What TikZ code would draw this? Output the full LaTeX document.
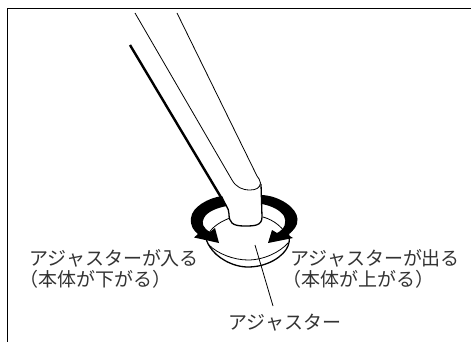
\documentclass[tikz,border=0pt]{standalone}
\usepackage{fontspec}
\newfontfamily\cjk{Noto Sans CJK JP}
\tikzset{
  label text/.style={font=\cjk\fontsize{19}{21}\selectfont, anchor=west, inner sep=0pt, text=black!80},
  thinline/.style={line width=0.8pt, line join=round},
  midline/.style={line width=1.3pt, line join=round},
  heavyline/.style={line width=2.4pt, line cap=butt},
  arrowfill/.style={fill=black, draw=none}
}
\begin{document}
\begin{tikzpicture}[x=1pt,y=-1pt]
\useasboundingbox (0,0) rectangle (471,342);
% frame
\draw[line width=1pt] (7.5,342) -- (7.5,8.5) -- (471,8.5);
% pipe thin lines
\draw[thinline] (135,13) -- (232,180) .. controls (236,187) and (242,190) .. (250,190) .. controls (256,190) and (260,188) .. (260.5,183) .. controls (260.5,180) and (258,178) .. (257,176) -- (177,13);
% heavy pipe side
\draw[heavyline] (130,45) -- (222,199);
% disk
\draw[midline] (209,232) .. controls (203,237) and (208,244) .. (210,247) .. controls (216,257) and (232,267) .. (248,267) .. controls (268,267) and (284,256) .. (288,246) .. controls (290,240) and (290,236) .. (287,232);
\draw[thinline] (209,245) .. controls (218,254) and (234,260) .. (248,260) .. controls (264,260) and (280,252) .. (288,243);
\draw[thinline] (209,233) .. controls (213,226) and (222,221) .. (230,218);
\draw[thinline] (263,217) .. controls (274,220) and (284,228) .. (288,238);
% foot
\draw[midline] (220,197) .. controls (225,204) and (229,208) .. (229,214) .. controls (229,222) and (232,226) .. (244,226) .. controls (254,226) and (262,226) .. (262,217) -- (261,184);
% arrows
\path[arrowfill] (222,196) .. controls (208,198) and (192,207) .. (191,218) .. controls (190,226) and (194,231) .. (198,234) -- (194,237.5) -- (219,243) -- (215,228) -- (210,232) .. controls (203,228) and (201,223) .. (204,218) .. controls (207,212) and (216,208) .. (227,206) -- cycle;
\path[arrowfill] (262,195) .. controls (280,196) and (297,208) .. (297.5,219) .. controls (298,226) and (293,231) .. (288,235) -- (293,238) -- (268,243) -- (272,230) -- (277,233) .. controls (285,229) and (287,222) .. (284,216) .. controls (280,210) and (272,206) .. (262,204) -- cycle;
% labels
\node[label text] (l1) at (29.5,258) {アジャスターが入る};
\node[label text] (l2) at (19,279) {（本体が下がる）};
\node[label text] (r1) at (290.5,258) {アジャスターが出る};
\node[label text] (r2) at (282,279) {（本体が上がる）};
\node[label text] (adj) at (228.5,323) {アジャスター};
\coordinate (tip) at (255,245);
\draw[thinline] (tip) -- (273,306);
\end{tikzpicture}
\end{document}
